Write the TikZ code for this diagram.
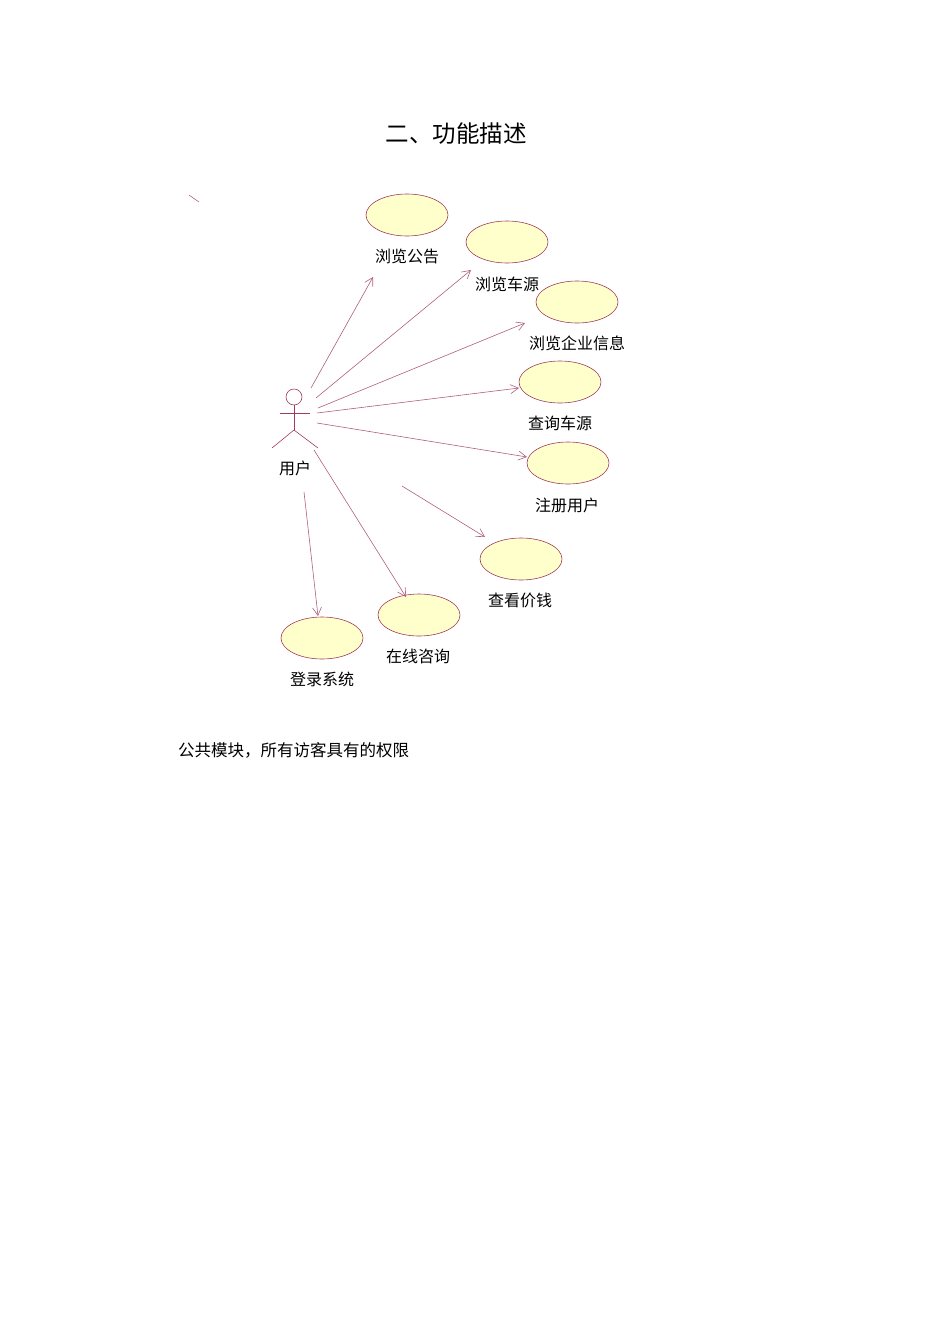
\documentclass[tikz,border=0pt]{standalone}
\usepackage{fontspec}
\newfontfamily\cjk{Noto Sans CJK SC}
\usetikzlibrary{arrows.meta,shapes.geometric}
\definecolor{ufill}{RGB}{255,255,204}
\definecolor{uline}{RGB}{160,60,90}
\definecolor{aline}{RGB}{175,95,125}
\tikzset{uc/.style={ellipse,draw=uline,fill=ufill,line width=0.6pt,minimum width=82pt,minimum height=42pt,inner sep=0pt},
lbl/.style={font=\cjk\fontsize{16}{18}\selectfont,inner sep=0pt},
arr/.style={draw=aline,line width=0.6pt,-{Straight Barb[length=8pt,width=9pt]}}}
\begin{document}
\begin{tikzpicture}[x=1pt,y=-1pt]
\useasboundingbox (0,0) rectangle (950,1344);
\node[font=\cjk\fontsize{23.5}{26}\selectfont,inner sep=0pt] (title) at (456,134) {二、功能描述};
\coordinate (t1) at (189,195); \coordinate (t2) at (199,202);
\draw[aline,line width=0.6pt] (t1) -- (t2);
\node[uc] (u1) at (407,215) {}; \node[lbl] (l1) at (407,256) {浏览公告};
\node[uc] (u2) at (507,242) {}; \node[lbl] (l2) at (507,284) {浏览车源};
\node[uc] (u3) at (577,302) {}; \node[lbl] (l3) at (577,343) {浏览企业信息};
\node[uc] (u4) at (560,382) {}; \node[lbl] (l4) at (560,423) {查询车源};
\node[uc] (u5) at (568,463) {}; \node[lbl] (l5) at (567,505) {注册用户};
\node[uc] (u6) at (521,559) {}; \node[lbl] (l6) at (520,600) {查看价钱};
\node[uc] (u7) at (419,615) {}; \node[lbl] (l7) at (418,656) {在线咨询};
\node[uc] (u8) at (322,638) {}; \node[lbl] (l8) at (322,679) {登录系统};
% actor
\node[circle,draw=uline,line width=0.6pt,minimum size=16pt,inner sep=0pt] (head) at (294,397) {};
\draw[uline,line width=0.6pt] (head.south) -- (294,430) coordinate (hip);
\draw[uline,line width=0.8pt] (280,413) -- (310,413);
\draw[uline,line width=0.6pt] (272,448) -- (hip) -- (318,448);
\node[lbl] (actor) at (295,468) {用户};
% arrows
\foreach \n/\a/\b/\c/\d in {1/311/388/373/277,2/316/398/471/270,3/318/408/525/323,4/317/413/519/388,5/317/423/527/457,6/402/486/485/537,7/314/450/406/597,8/304/492/318/616}{
 \coordinate (s\n) at (\a,\b); \coordinate (e\n) at (\c,\d);
 \draw[arr] (s\n) -- (e\n);}
\node[font=\cjk\fontsize{16.5}{18}\selectfont,anchor=west,inner sep=0pt] (note) at (178,750) {公共模块，所有访客具有的权限};
\end{tikzpicture}
\end{document}
